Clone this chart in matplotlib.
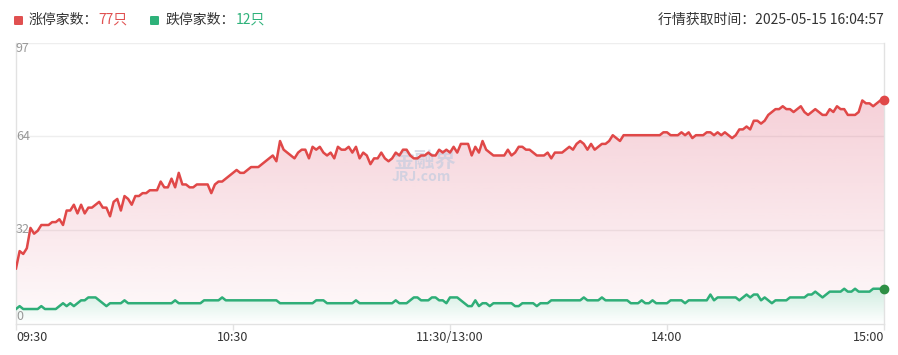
import numpy as np
import matplotlib
matplotlib.use("Agg")
import matplotlib.pyplot as plt
import matplotlib.colors as mcolors
from matplotlib.patches import Polygon, FancyBboxPatch
import matplotlib.transforms as mtransforms

plt.rcParams['font.family'] = ['Noto Sans CJK SC', 'DejaVu Sans']

# ---------------- data ----------------
x_tick_labels = ["09:30", "10:30", "11:30/13:00", "14:00", "15:00"]
x_tick_minutes = [0, 60, 120, 180, 240]
y_tick_labels = ["0", "32", "64", "97"]
y_max = 97

limit_up = [
    19, 25, 24, 26, 33, 31, 32, 34, 34, 34, 35, 35, 36, 34, 39, 39, 41, 38, 41, 38,
    40, 40, 41, 42, 40, 40, 37, 42, 43, 39, 44, 43, 41, 44, 44, 45, 45, 46, 46, 46,
    49, 47, 47, 50, 47, 52, 48, 48, 47, 47, 48, 48, 48, 48, 45, 48, 49, 49, 50, 51,
    52, 53, 52, 52, 53, 54, 54, 54, 55, 56, 57, 58, 56, 63, 60, 59, 58, 57, 59, 60,
    60, 57, 61, 60, 61, 59, 58, 59, 57, 61, 60, 60, 61, 59, 61, 57, 59, 58, 55, 57,
    57, 59, 57, 56, 57, 59, 58, 60, 60, 58, 57, 57, 58, 58, 59, 58, 58, 60, 59, 60,
    59, 61, 59, 62, 62, 62, 58, 61, 59, 63, 60, 59, 58, 58, 58, 58, 60, 58, 59, 61,
    61, 60, 60, 59, 58, 58, 58, 59, 57, 59, 59, 59, 60, 61, 60, 62, 63, 62, 60, 62,
    60, 61, 62, 62, 63, 65, 64, 63, 65, 65, 65, 65, 65, 65, 65, 65, 65, 65, 65, 66,
    66, 65, 65, 65, 66, 65, 66, 64, 65, 65, 65, 66, 66, 65, 66, 65, 66, 65, 64, 65,
    67, 67, 68, 67, 70, 70, 69, 70, 72, 73, 74, 74, 75, 74, 74, 73, 74, 75, 73, 72,
    73, 74, 73, 72, 72, 74, 73, 75, 74, 74, 72, 72, 72, 73, 77, 76, 76, 75, 76, 77,
    77,
]

limit_down = [
    5, 6, 5, 5, 5, 5, 5, 6, 5, 5, 5, 5, 6, 7, 6, 7, 6, 7, 8, 8,
    9, 9, 9, 8, 7, 6, 7, 7, 7, 7, 8, 7, 7, 7, 7, 7, 7, 7, 7, 7,
    7, 7, 7, 7, 8, 7, 7, 7, 7, 7, 7, 7, 8, 8, 8, 8, 8, 9, 8, 8,
    8, 8, 8, 8, 8, 8, 8, 8, 8, 8, 8, 8, 8, 7, 7, 7, 7, 7, 7, 7,
    7, 7, 7, 8, 8, 8, 7, 7, 7, 7, 7, 7, 7, 7, 8, 7, 7, 7, 7, 7,
    7, 7, 7, 7, 7, 8, 7, 7, 7, 8, 9, 9, 8, 8, 8, 9, 9, 8, 8, 7,
    9, 9, 9, 8, 7, 6, 6, 8, 6, 7, 7, 6, 7, 7, 7, 7, 7, 7, 6, 6,
    7, 7, 7, 7, 6, 7, 7, 7, 8, 8, 8, 8, 8, 8, 8, 8, 8, 9, 8, 8,
    8, 8, 9, 8, 8, 8, 8, 8, 8, 8, 7, 7, 7, 8, 7, 7, 8, 7, 7, 7,
    7, 8, 8, 8, 8, 7, 8, 8, 8, 8, 8, 8, 10, 8, 9, 9, 9, 9, 9, 9,
    8, 9, 10, 9, 10, 10, 8, 9, 8, 7, 8, 8, 8, 8, 9, 9, 9, 9, 9, 10,
    10, 11, 10, 9, 10, 11, 11, 11, 11, 12, 11, 11, 12, 11, 11, 11, 11, 12, 12, 12,
    12,
]

up_label = "涨停家数："
down_label = "跌停家数："
up_count = "77只"
down_count = "12只"
time_text = "行情获取时间：2025-05-15 16:04:57"
watermark_cn = "金融界"
watermark_en = "JRJ.com"

# ---------------- style ----------------
RED = "#e04848"
RED_FILL = "#e0607a"
GREEN = "#2fae78"
GREEN_FILL = "#2fae78"
GREEN_DOT = "#2e8f45"
GRID = "#eeeeee"
AXIS = "#e2e2e2"

W, H = 898, 355
fig = plt.figure(figsize=(W / 100, H / 100), dpi=100)
left, right = 16, 884
top, bottom = 42.5, 323.5
ax = fig.add_axes([left / W, 1 - bottom / H, (right - left) / W, (bottom - top) / H])

xs = np.arange(len(limit_up))
up = np.array(limit_up, dtype=float)
dn = np.array(limit_down, dtype=float)


def gradient_fill(ax, x, y, color, a_top, a_bottom, ymax_grad, z):
    verts = np.vstack([np.column_stack([x, y]), [[x[-1], 0], [x[0], 0]]])
    clip = Polygon(verts, closed=True, facecolor='none', edgecolor='none',
                   transform=ax.transData)
    ax.add_patch(clip)
    rgb = mcolors.to_rgb(color)
    grad = np.zeros((256, 1, 4))
    grad[:, :, :3] = rgb
    grad[:, 0, 3] = np.linspace(a_bottom, a_top, 256)
    im = ax.imshow(grad, aspect='auto', extent=[x[0], x[-1], 0, ymax_grad],
                   origin='lower', zorder=z, interpolation='bilinear')
    im.set_clip_path(clip)


# red area
gradient_fill(ax, xs, up, RED_FILL, 0.36, 0.03, y_max, 1)
# white under green so green area isn't pink
ax.fill_between(xs, dn, 0, color='white', lw=0, zorder=1.5)
gradient_fill(ax, xs, dn, GREEN_FILL, 0.22, 0.0, dn.max(), 2)

ax.plot(xs, up, color=RED, lw=1.8, zorder=4, solid_joinstyle='round')
ax.plot(xs, dn, color=GREEN, lw=1.8, zorder=4, solid_joinstyle='round')
ax.plot([xs[-1]], [up[-1]], 'o', ms=6, color=RED, zorder=5, clip_on=False)
ax.plot([xs[-1]], [dn[-1]], 'o', ms=6, color=GREEN_DOT, zorder=5, clip_on=False)

ax.set_xlim(0, len(xs) - 1)
ax.set_ylim(0, y_max)

# grid lines
ytick_pos = [0, y_max / 3, 2 * y_max / 3, y_max]
for yv in ytick_pos[1:]:
    ax.axhline(yv, color=GRID, lw=1, zorder=0.5)

ax.spines['top'].set_visible(False)
for s in ['left', 'right', 'bottom']:
    ax.spines[s].set_color(AXIS)
    ax.spines[s].set_linewidth(1)

ax.set_yticks([])
ax.set_xticks(x_tick_minutes)
ax.set_xticklabels(x_tick_labels)
ax.tick_params(axis='x', length=4, width=1, color=AXIS, labelsize=9,
               labelcolor='#333333', pad=1.5)
labels = ax.get_xticklabels()
labels[0].set_ha('left')
labels[-1].set_ha('right')

# y labels inside
trans = mtransforms.blended_transform_factory(ax.transAxes, ax.transData)
vas = ['bottom', 'center', 'center', 'top']
for yv, lab, va in zip(ytick_pos, y_tick_labels, vas):
    ax.text(0.0, yv, lab, transform=trans, ha='left', va=va, fontsize=9,
            color='#999999', zorder=3)

# watermark (centre of plot)
ax.text(113, 56.5, watermark_cn, ha='center', va='center',
        fontsize=15, color='#c9cee0', alpha=0.75, zorder=3, fontweight='bold')
ax.text(112, 50.5, watermark_en, ha='center', va='center',
        fontsize=10, color='#c9cee0', alpha=0.8, zorder=3, fontweight='bold')

# header legend
renderer = fig.canvas.get_renderer()
ty = 1 - 20 / H


def px2fig(px):
    return px / W


def put(xpx, s, color, size=10):
    t = fig.text(px2fig(xpx), ty, s, color=color, fontsize=size, ha='left', va='center')
    bb = t.get_window_extent(renderer=renderer)
    return bb.x1


def square(xpx, color):
    sq = FancyBboxPatch((px2fig(xpx), 1 - 25 / H), 9 / W, 9 / H,
                        boxstyle="round,pad=0,rounding_size=0.002",
                        transform=fig.transFigure, facecolor=color, edgecolor='none')
    fig.patches.append(sq)


square(14, "#e05050")
x1 = put(29, up_label, "#333333")
put(x1, up_count, "#e05050")
square(150, "#2eb27a")
x2 = put(166, down_label, "#333333")
put(x2, down_count, "#2eb27a")

fig.text(884 / W, ty, time_text, color="#333333", fontsize=10, ha='right', va='center')

fig.savefig("out.png", dpi=100)
